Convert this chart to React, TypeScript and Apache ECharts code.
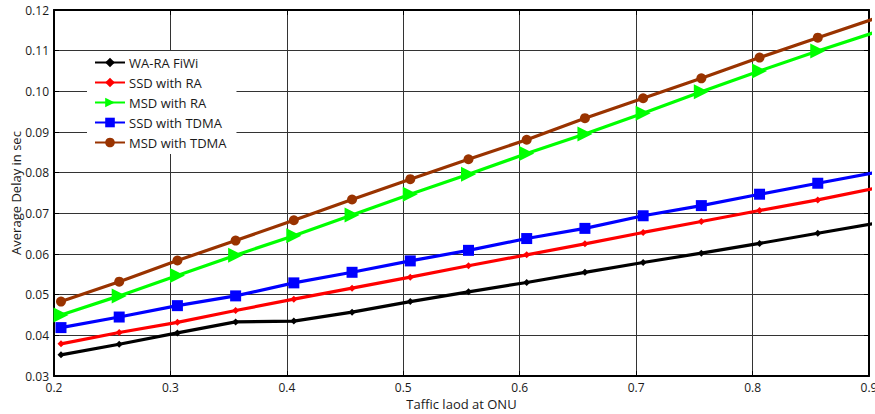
import React, { useEffect, useRef } from "react";
import * as echarts from "echarts";

const loads = [0.206, 0.256, 0.306, 0.356, 0.406, 0.456, 0.506, 0.556, 0.606, 0.656, 0.706, 0.756, 0.806, 0.856, 0.906];
const waRaFiwi = [0.0352, 0.0378, 0.0406, 0.0433, 0.0435, 0.0457, 0.0483, 0.0507, 0.053, 0.0555, 0.0579, 0.0602, 0.0626, 0.0651, 0.0676];
const ssdRa = [0.0379, 0.0407, 0.0432, 0.0461, 0.0489, 0.0516, 0.0543, 0.0571, 0.0598, 0.0625, 0.0653, 0.068, 0.0707, 0.0733, 0.0762];
const msdRa = [0.045, 0.0497, 0.0547, 0.0597, 0.0645, 0.0696, 0.0747, 0.0796, 0.0847, 0.0895, 0.0946, 0.0999, 0.105, 0.1099, 0.1146];
const ssdTdma = [0.0419, 0.0445, 0.0473, 0.0497, 0.0529, 0.0555, 0.0583, 0.0609, 0.0638, 0.0663, 0.0694, 0.0719, 0.0747, 0.0774, 0.0801];
const msdTdma = [0.0483, 0.0532, 0.0584, 0.0633, 0.0683, 0.0734, 0.0784, 0.0833, 0.0881, 0.0934, 0.0983, 0.1032, 0.1083, 0.1132, 0.118];

const seriesNames = ["WA-RA FiWi", "SSD with RA", "MSD with RA", "SSD with TDMA", "MSD with TDMA"];
const xTitle = "Taffic laod at ONU";
const yTitle = "Average Delay in sec";

const FONT = "'Open Sans', 'Noto Sans', sans-serif";

export default function App() {
  const ref = useRef<HTMLDivElement>(null);
  useEffect(() => {
    document.body.style.margin = "0";
    if (!ref.current) return;
    const chart = echarts.init(ref.current, null, { renderer: "svg", width: 875, height: 414 });
    const pairs = (ys: number[]) => loads.map((x, i) => [x, ys[i]]);
    const mk = (name: string, ys: number[], color: string, symbol: string, size: number, rotate = 0) => ({
      name,
      type: "line",
      data: pairs(ys),
      clip: true,
      color,
      symbol,
      symbolSize: size,
      symbolRotate: rotate,
      lineStyle: { color, width: 3.2 },
      itemStyle: { color, borderWidth: 0 },
      z: 3,
    });
    const labelStyle = { color: "#1a1a1a", fontSize: 12, fontFamily: FONT };
    chart.setOption({
      animation: false,
      backgroundColor: "#fff",
      textStyle: { fontFamily: FONT },
      grid: { left: 54, right: 6, top: 10, bottom: 38, containLabel: false, outerBoundsMode: "none" },
      legend: {
        orient: "vertical",
        left: 87,
        top: 51,
        itemWidth: 30,
        itemHeight: 12,
        itemGap: 7,
        padding: [5, 10, 5, 7],
        backgroundColor: "#fff",
        borderWidth: 0,
        textStyle: { color: "#1a1a1a", fontSize: 13, fontFamily: FONT, padding: [0, 0, 0, -1] },
        data: seriesNames,
        z: 10,
      },
      xAxis: [
        {
          type: "value",
          min: 0.2,
          max: 0.9,
          interval: 0.1,
          name: xTitle,
          nameLocation: "middle",
          nameGap: 21,
          nameMoveOverlap: false,
          nameTextStyle: { color: "#1a1a1a", fontSize: 13, fontFamily: FONT },
          axisLine: { lineStyle: { color: "#000", width: 2 } },
          axisTick: { inside: true, length: 5, lineStyle: { color: "#000" } },
          axisLabel: { ...labelStyle, margin: 5, formatter: (v: number) => v.toFixed(1) },
          splitLine: { show: true, lineStyle: { color: "#333", width: 1 } },
        },
        {
          type: "value",
          position: "top",
          min: 0.2,
          max: 0.9,
          interval: 0.1,
          axisLine: { show: true, lineStyle: { color: "#000", width: 2 } },
          axisTick: { inside: true, length: 5, lineStyle: { color: "#000" } },
          axisLabel: { show: false },
          splitLine: { show: false },
        },
      ],
      yAxis: [
        {
          type: "value",
          min: 0.03,
          max: 0.12,
          interval: 0.01,
          name: yTitle,
          nameLocation: "middle",
          nameGap: 32,
          nameMoveOverlap: false,
          nameTextStyle: { color: "#1a1a1a", fontSize: 13, fontFamily: FONT },
          axisLine: { show: true, lineStyle: { color: "#000", width: 2 } },
          axisTick: { show: true, inside: true, length: 5, lineStyle: { color: "#000" } },
          axisLabel: { ...labelStyle, margin: 5, formatter: (v: number) => v.toFixed(2) },
          splitLine: { show: true, lineStyle: { color: "#333", width: 1 } },
        },
        {
          type: "value",
          position: "right",
          min: 0.03,
          max: 0.12,
          interval: 0.01,
          axisLine: { show: true, lineStyle: { color: "#000", width: 2 } },
          axisTick: { show: true, inside: true, length: 5, lineStyle: { color: "#000" } },
          axisLabel: { show: false },
          splitLine: { show: false },
        },
      ],
      series: [
        mk(seriesNames[0], waRaFiwi, "#000000", "diamond", 7),
        mk(seriesNames[1], ssdRa, "#ff0000", "diamond", 7),
        mk(seriesNames[2], msdRa, "#00ff00", "triangle", 15, -90),
        mk(seriesNames[3], ssdTdma, "#0000ff", "rect", 11),
        mk(seriesNames[4], msdTdma, "#993300", "circle", 10),
      ],
    });
    return () => chart.dispose();
  }, []);
  return <div ref={ref} style={{ width: 875, height: 414, background: "#fff" }} />;
}
